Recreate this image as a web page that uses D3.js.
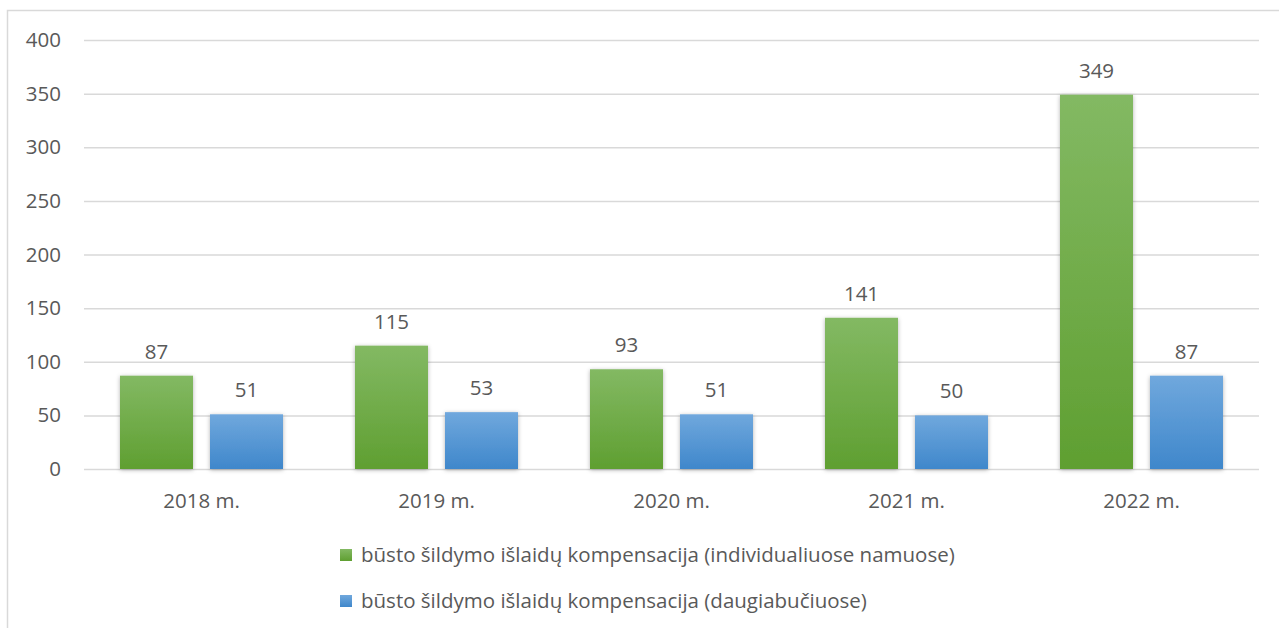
<!DOCTYPE html>
<html><head><meta charset="utf-8">
<script src="https://cdn.jsdelivr.net/npm/d3@7/dist/d3.min.js"></script>
<style>body{margin:0;background:#fff}text{font-family:"Open Sans","Liberation Sans",sans-serif;fill:#595959}</style>
</head><body><svg id="c" width="1279" height="628"></svg>
<script>
const categories = ["2018 m.","2019 m.","2020 m.","2021 m.","2022 m."];
const seriesNames = ["būsto šildymo išlaidų kompensacija (individualiuose namuose)","būsto šildymo išlaidų kompensacija (daugiabučiuose)"];
const individual = [87,115,93,141,349];
const apartments = [51,53,51,50,87];
const yTicks = [0,50,100,150,200,250,300,350,400];

const FS = "20.5px";
const svg = d3.select("#c");
const defs = svg.append("defs");
const grads = [["g0","#83b963","#5f9f31"],["g1","#70a8dd","#3f87cb"]];
grads.forEach(([id,a,b])=>{
  const g=defs.append("linearGradient").attr("id",id).attr("x1",0).attr("y1",0).attr("x2",0).attr("y2",1);
  g.append("stop").attr("offset","0%").attr("stop-color",a);
  g.append("stop").attr("offset","100%").attr("stop-color",b);
});
const f=defs.append("filter").attr("id","sh").attr("x","-20%").attr("y","-20%").attr("width","140%").attr("height","140%");
f.append("feDropShadow").attr("dx",0).attr("dy",1).attr("stdDeviation",2).attr("flood-color","#000").attr("flood-opacity",0.3);

// border
svg.append("path").attr("d","M7.5,628 V10.5 H1279").attr("fill","none").attr("stroke","#d9d9d9").attr("stroke-width",1.5);

const L=84,R=1259,T=40,B=469;
const x=d3.scaleBand().domain(categories).range([L,R]).paddingInner(0).paddingOuter(0);
const y=d3.scaleLinear().domain([0,400]).range([B,T]);

const yAxis=d3.axisLeft(y).tickValues(yTicks).tickSize(-(R-L)).tickPadding(23);
const ga=svg.append("g").attr("transform",`translate(${L},0)`).call(yAxis);
ga.select(".domain").remove();
ga.selectAll("line").attr("stroke","#d9d9d9").attr("stroke-width",1.5);
ga.selectAll("text").style("font-size",FS).attr("fill","#595959");

const xAxis=d3.axisBottom(x).tickSize(0).tickPadding(24);
const gx=svg.append("g").attr("transform",`translate(0,${B})`).call(xAxis);
gx.select(".domain").remove();
gx.selectAll("text").style("font-size",FS).attr("fill","#595959");

const bw=73, gap=17;
const series=[individual,apartments];
series.forEach((vals,si)=>{
  const g=svg.append("g");
  vals.forEach((v,i)=>{
    const cx=x(categories[i])+x.bandwidth()/2;
    const x0 = si===0 ? cx-gap/2-bw : cx+gap/2;
    g.append("rect").attr("x",x0).attr("y",y(v)).attr("width",bw).attr("height",B-y(v))
      .attr("fill",`url(#g${si})`).attr("filter","url(#sh)");
    g.append("text").attr("x",x0+bw/2).attr("y",y(v)-17).attr("text-anchor","middle")
      .style("font-size",FS).text(v);
  });
});

const leg=svg.append("g");
seriesNames.forEach((n,i)=>{
  const yy=555+i*46;
  leg.append("rect").attr("x",340).attr("y",yy-6).attr("width",12).attr("height",12).attr("fill",`url(#g${i})`);
  leg.append("text").attr("x",361).attr("y",yy).attr("dy","0.35em").style("font-size",FS).text(n);
});
</script></body></html>
